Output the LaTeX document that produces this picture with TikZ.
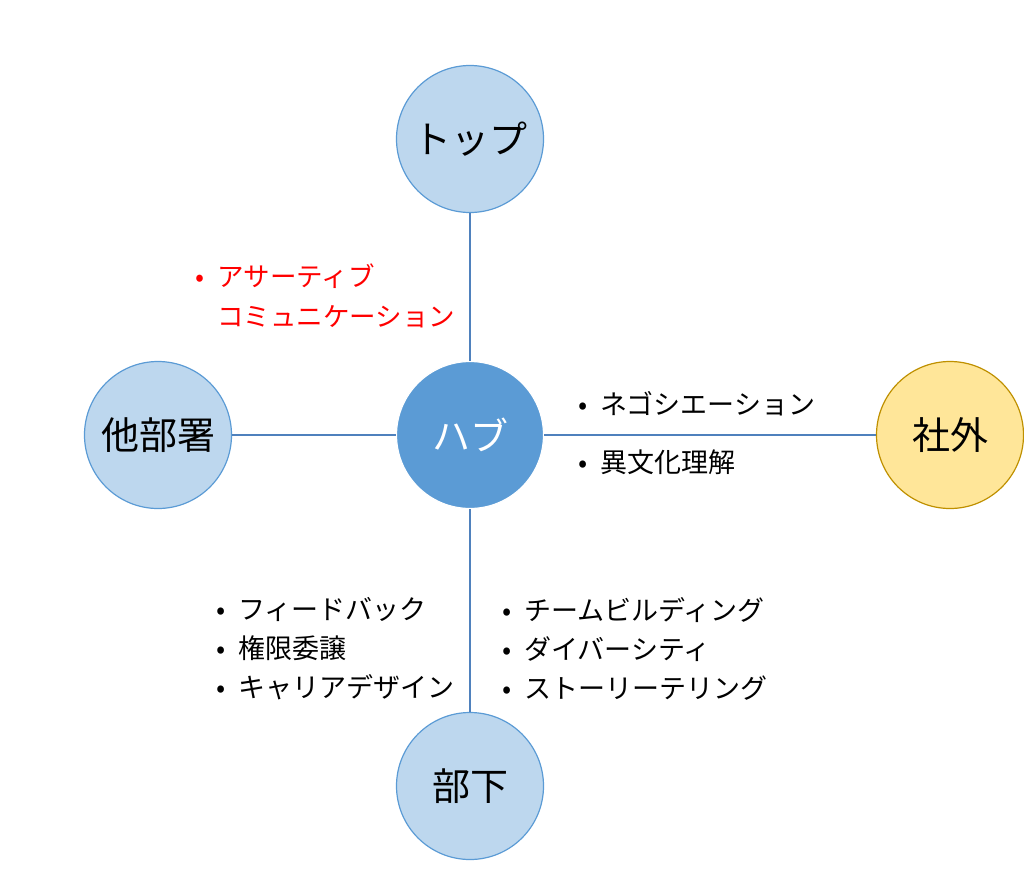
\documentclass[tikz,border=0pt]{standalone}
\usepackage{fontspec}
\setmainfont{Noto Sans CJK JP}
\usepackage{tikz}
\usetikzlibrary{positioning}
\definecolor{mylight}{RGB}{189,215,238}
\definecolor{myblue}{RGB}{91,155,213}
\definecolor{myline}{RGB}{79,129,189}
\definecolor{myyellow}{RGB}{255,230,153}
\definecolor{mygold}{RGB}{191,144,0}
\newcommand{\blt}{\makebox[22pt][l]{\textbullet}}
\newcommand{\nob}{\makebox[22pt][l]{}}

\begin{document}
\begin{tikzpicture}[x=1pt,y=-1pt]
	\useasboundingbox (0,0) rectangle (1024,870);
	\begin{scope}[every node/.style={fill=mylight,circle,draw=myblue,line width=1.2pt,
	              minimum size=147pt,inner sep=0pt,font=\fontsize{38}{44}\selectfont}]
	    \node (T) at (470,139) {トップ};
	    \node[fill=myblue,draw=white,text=white] (H) at (470,435) {ハブ};
	    \node (L) at (158,435) {他部署};
	    \node[fill=myyellow,draw=mygold] (R) at (950,435) {社外};
	    \node (B) at (470,786) {部下};
	\end{scope}

	\begin{scope}[every edge/.style={draw=myline,line width=1.5pt}]
    	\path (H) edge (T);
    	\path (H) edge (L);
    	\path (H) edge (R);
    	\path (H) edge (B);
	\end{scope}

	\begin{scope}[every node/.style={anchor=west,inner sep=0pt,align=left,
	              font=\fontsize{27}{39}\selectfont}]
	    \node[text=red,font=\fontsize{26.5}{40}\selectfont] (A) at (195,296)
	        {\blt アサーティブ\\\nob コミュニケーション};
	    \node (N) at (578,404) {\blt ネゴシエーション};
	    \node (I) at (578,462) {\blt 異文化理解};
	    \node (BL) at (216,649) {\blt フィードバック\\\blt 権限委譲\\\blt キャリアデザイン};
	    \node (BR) at (502,649) {\blt チームビルディング\\\blt ダイバーシティ\\\blt ストーリーテリング};
	\end{scope}
\end{tikzpicture}
\end{document}
